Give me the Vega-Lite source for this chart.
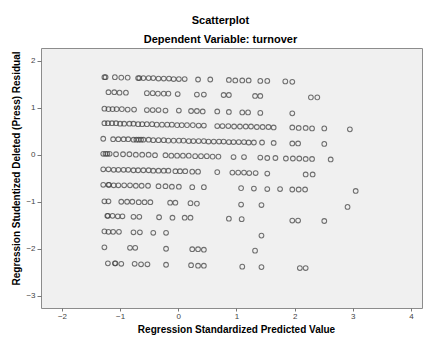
{
  "$schema": "https://vega.github.io/schema/vega-lite/v6.json",
  "width": 381,
  "height": 260,
  "autosize": {"type": "none"},
  "padding": {"left": 41, "top": 48, "right": 1, "bottom": 32},
  "background": "white",
  "title": {
    "text": "Scatterplot",
    "subtitle": "Dependent Variable: turnover",
    "anchor": "middle",
    "frame": "group",
    "dx": -11,
    "font": "Liberation Sans",
    "fontSize": 11,
    "fontWeight": "bold",
    "color": "#000",
    "subtitleFont": "Liberation Sans",
    "subtitleFontSize": 11,
    "subtitleFontWeight": "bold",
    "subtitleColor": "#000",
    "subtitlePadding": 8,
    "offset": 3
  },
  "config": {
    "view": {"fill": "#f0f0f0", "stroke": "#8c8c8c", "strokeWidth": 1},
    "axis": {
      "grid": false,
      "domain": false,
      "labelFont": "Liberation Sans",
      "labelFontSize": 8,
      "labelColor": "#444",
      "tickColor": "#777",
      "titleFont": "Liberation Sans",
      "titleFontSize": 10,
      "titleFontWeight": "bold",
      "titleColor": "#000"
    }
  },
  "data": {"values": [
    {"p":-1.27,"r":1.65},{"p":-1.25,"r":1.65},{"p":-1.09,"r":1.65},{"p":-0.98,"r":1.64},{"p":-0.87,"r":1.64},{"p":-0.69,"r":1.63},{"p":-0.67,"r":1.63},{"p":-0.60,"r":1.63},{"p":-0.51,"r":1.63},{"p":-0.43,"r":1.63},{"p":-0.34,"r":1.62},{"p":-0.25,"r":1.62},{"p":-0.16,"r":1.62},{"p":-0.08,"r":1.61},{"p":0.01,"r":1.61},{"p":0.11,"r":1.61},{"p":0.34,"r":1.60},{"p":0.55,"r":1.60},{"p":0.87,"r":1.59},{"p":0.98,"r":1.58},{"p":1.10,"r":1.58},{"p":1.21,"r":1.58},{"p":1.41,"r":1.57},{"p":1.53,"r":1.57},{"p":1.84,"r":1.56},{"p":1.96,"r":1.55},

    {"p":-1.20,"r":1.33},{"p":-1.10,"r":1.33},{"p":-1.01,"r":1.32},{"p":-0.90,"r":1.32},{"p":-0.54,"r":1.31},{"p":-0.44,"r":1.31},{"p":-0.35,"r":1.30},{"p":-0.25,"r":1.30},{"p":-0.17,"r":1.30},{"p":-0.01,"r":1.29},{"p":0.32,"r":1.28},{"p":0.44,"r":1.28},{"p":0.78,"r":1.27},{"p":0.87,"r":1.27},{"p":1.32,"r":1.25},{"p":1.41,"r":1.25},{"p":2.28,"r":1.22},{"p":2.39,"r":1.22},

    {"p":-1.27,"r":0.98},{"p":-1.20,"r":0.97},{"p":-1.13,"r":0.97},{"p":-1.06,"r":0.97},{"p":-0.97,"r":0.97},{"p":-0.87,"r":0.96},{"p":-0.76,"r":0.96},{"p":-0.54,"r":0.95},{"p":-0.44,"r":0.95},{"p":-0.34,"r":0.95},{"p":-0.22,"r":0.94},{"p":0.01,"r":0.94},{"p":0.22,"r":0.93},{"p":0.32,"r":0.93},{"p":0.42,"r":0.92},{"p":0.67,"r":0.92},{"p":0.87,"r":0.91},{"p":1.10,"r":0.90},{"p":1.20,"r":0.90},{"p":1.41,"r":0.89},{"p":1.96,"r":0.88},

    {"p":-1.27,"r":0.67},{"p":-1.21,"r":0.67},{"p":-1.14,"r":0.67},{"p":-1.07,"r":0.67},{"p":-1.00,"r":0.66},{"p":-0.93,"r":0.66},{"p":-0.84,"r":0.66},{"p":-0.77,"r":0.66},{"p":-0.69,"r":0.65},{"p":-0.62,"r":0.65},{"p":-0.54,"r":0.65},{"p":-0.45,"r":0.65},{"p":-0.37,"r":0.64},{"p":-0.28,"r":0.64},{"p":-0.19,"r":0.64},{"p":-0.11,"r":0.64},{"p":-0.02,"r":0.63},{"p":0.06,"r":0.63},{"p":0.15,"r":0.63},{"p":0.25,"r":0.63},{"p":0.35,"r":0.62},{"p":0.44,"r":0.62},
    {"p":0.67,"r":0.61},{"p":0.76,"r":0.61},{"p":0.86,"r":0.61},{"p":0.96,"r":0.60},{"p":1.06,"r":0.60},{"p":1.16,"r":0.60},{"p":1.25,"r":0.60},{"p":1.35,"r":0.59},{"p":1.45,"r":0.59},{"p":1.55,"r":0.59},{"p":1.64,"r":0.58},
    {"p":1.96,"r":0.58},{"p":2.07,"r":0.57},{"p":2.19,"r":0.57},{"p":2.30,"r":0.56},{"p":2.51,"r":0.56},{"p":2.95,"r":0.54},

    {"p":-1.29,"r":0.34},{"p":-1.12,"r":0.33},{"p":-1.03,"r":0.33},{"p":-0.94,"r":0.33},{"p":-0.86,"r":0.33},{"p":-0.77,"r":0.32},{"p":-0.72,"r":0.32},{"p":-0.68,"r":0.32},{"p":-0.64,"r":0.32},{"p":-0.60,"r":0.32},{"p":-0.51,"r":0.32},{"p":-0.43,"r":0.31},{"p":-0.34,"r":0.31},{"p":-0.25,"r":0.31},{"p":-0.17,"r":0.30},{"p":-0.08,"r":0.30},{"p":0.01,"r":0.30},{"p":0.09,"r":0.30},{"p":0.18,"r":0.29},{"p":0.26,"r":0.29},{"p":0.35,"r":0.29},{"p":0.44,"r":0.29},{"p":0.52,"r":0.28},{"p":0.61,"r":0.28},{"p":0.70,"r":0.28},{"p":0.78,"r":0.28},{"p":0.87,"r":0.27},{"p":0.95,"r":0.27},{"p":1.04,"r":0.27},{"p":1.13,"r":0.27},{"p":1.21,"r":0.26},{"p":1.30,"r":0.26},{"p":1.44,"r":0.26},{"p":1.64,"r":0.25},{"p":1.96,"r":0.24},{"p":2.06,"r":0.24},{"p":2.51,"r":0.23},

    {"p":-1.29,"r":0.02},{"p":-1.25,"r":0.02},{"p":-1.22,"r":0.02},{"p":-1.18,"r":0.02},{"p":-1.07,"r":0.01},{"p":-0.95,"r":0.01},{"p":-0.84,"r":0.01},{"p":-0.73,"r":0.00},{"p":-0.62,"r":0.00},{"p":-0.51,"r":0.00},{"p":-0.40,"r":-0.01},{"p":-0.22,"r":-0.01},{"p":-0.12,"r":-0.02},{"p":-0.02,"r":-0.02},{"p":0.08,"r":-0.02},{"p":0.18,"r":-0.02},{"p":0.29,"r":-0.03},{"p":0.39,"r":-0.03},{"p":0.49,"r":-0.03},{"p":0.59,"r":-0.04},{"p":0.69,"r":-0.04},{"p":0.95,"r":-0.05},{"p":1.13,"r":-0.05},{"p":1.41,"r":-0.06},{"p":1.53,"r":-0.07},{"p":1.67,"r":-0.07},{"p":1.85,"r":-0.08},{"p":1.97,"r":-0.08},{"p":2.08,"r":-0.08},{"p":2.19,"r":-0.09},{"p":2.30,"r":-0.09},{"p":2.62,"r":-0.10},

    {"p":-1.29,"r":-0.31},{"p":-1.20,"r":-0.31},{"p":-1.11,"r":-0.32},{"p":-1.03,"r":-0.32},{"p":-0.94,"r":-0.32},{"p":-0.86,"r":-0.32},{"p":-0.77,"r":-0.33},{"p":-0.69,"r":-0.33},{"p":-0.60,"r":-0.33},{"p":-0.51,"r":-0.33},{"p":-0.43,"r":-0.34},{"p":-0.34,"r":-0.34},{"p":-0.25,"r":-0.34},{"p":-0.17,"r":-0.34},{"p":-0.05,"r":-0.35},{"p":0.03,"r":-0.35},{"p":0.12,"r":-0.35},{"p":0.24,"r":-0.36},{"p":0.34,"r":-0.36},{"p":0.67,"r":-0.37},{"p":0.93,"r":-0.38},{"p":1.03,"r":-0.38},{"p":1.13,"r":-0.38},{"p":1.22,"r":-0.39},{"p":1.33,"r":-0.39},{"p":1.53,"r":-0.40},{"p":2.19,"r":-0.42},{"p":2.31,"r":-0.42},

    {"p":-1.29,"r":-0.64},{"p":-1.20,"r":-0.64},{"p":-1.19,"r":-0.64},{"p":-1.11,"r":-0.65},{"p":-1.03,"r":-0.65},{"p":-0.93,"r":-0.65},{"p":-0.83,"r":-0.65},{"p":-0.73,"r":-0.66},{"p":-0.63,"r":-0.66},{"p":-0.52,"r":-0.66},{"p":-0.34,"r":-0.67},{"p":-0.22,"r":-0.67},{"p":-0.11,"r":-0.68},{"p":0.01,"r":-0.68},{"p":0.24,"r":-0.69},{"p":0.44,"r":-0.69},{"p":1.08,"r":-0.71},{"p":1.30,"r":-0.72},{"p":1.53,"r":-0.73},{"p":1.75,"r":-0.73},{"p":1.96,"r":-0.74},{"p":2.07,"r":-0.74},{"p":2.18,"r":-0.74},{"p":3.05,"r":-0.77},

    {"p":-1.27,"r":-0.99},{"p":-1.20,"r":-0.99},{"p":-0.98,"r":-1.00},{"p":-0.88,"r":-1.00},{"p":-0.79,"r":-1.00},{"p":-0.68,"r":-1.01},{"p":-0.58,"r":-1.01},{"p":-0.48,"r":-1.01},{"p":-0.14,"r":-1.02},{"p":-0.05,"r":-1.02},{"p":0.21,"r":-1.03},{"p":0.32,"r":-1.04},{"p":1.08,"r":-1.06},{"p":1.43,"r":-1.07},{"p":2.91,"r":-1.11},

    {"p":-1.22,"r":-1.30},{"p":-1.21,"r":-1.30},{"p":-1.13,"r":-1.30},{"p":-1.04,"r":-1.31},{"p":-0.96,"r":-1.31},{"p":-0.77,"r":-1.32},{"p":-0.67,"r":-1.32},{"p":-0.33,"r":-1.33},{"p":-0.10,"r":-1.34},{"p":0.11,"r":-1.34},{"p":0.21,"r":-1.34},{"p":0.87,"r":-1.36},{"p":1.09,"r":-1.37},{"p":1.96,"r":-1.40},{"p":2.06,"r":-1.40},{"p":2.51,"r":-1.41},

    {"p":-1.27,"r":-1.63},{"p":-1.20,"r":-1.64},{"p":-1.12,"r":-1.64},{"p":-1.02,"r":-1.64},{"p":-0.77,"r":-1.65},{"p":-0.66,"r":-1.65},{"p":-0.43,"r":-1.66},{"p":-0.21,"r":-1.66},{"p":1.43,"r":-1.72},

    {"p":-1.27,"r":-1.97},{"p":-0.83,"r":-1.98},{"p":-0.74,"r":-1.98},{"p":-0.21,"r":-2.00},{"p":0.24,"r":-2.01},{"p":0.34,"r":-2.01},{"p":0.44,"r":-2.02},{"p":1.32,"r":-2.04},

    {"p":-1.21,"r":-2.31},{"p":-1.09,"r":-2.31},{"p":-1.08,"r":-2.31},{"p":-0.98,"r":-2.32},{"p":-0.75,"r":-2.32},{"p":-0.64,"r":-2.33},{"p":-0.53,"r":-2.33},{"p":-0.21,"r":-2.34},{"p":0.22,"r":-2.35},{"p":0.34,"r":-2.36},{"p":0.44,"r":-2.36},{"p":1.10,"r":-2.38},{"p":1.43,"r":-2.39},{"p":2.09,"r":-2.41},{"p":2.19,"r":-2.41}
  ]},
  "mark": {"type": "point", "shape": "circle", "filled": false, "size": 22, "strokeWidth": 1.1, "color": "#444444", "opacity": 0.75},
  "encoding": {
    "x": {
      "field": "p", "type": "quantitative",
      "scale": {"domain": [-2.36, 4.19], "nice": false, "zero": false},
      "axis": {"values": [-2, -1, 0, 1, 2, 3, 4], "tickSize": 3, "labelPadding": 1, "title": "Regression Standardized Predicted Value", "titlePadding": 4, "titleX": 195}
    },
    "y": {
      "field": "r", "type": "quantitative",
      "scale": {"domain": [-3.26, 2.27], "nice": false, "zero": false},
      "axis": {"values": [-3, -2, -1, 0, 1, 2], "tickSize": 4, "labelPadding": 2, "title": "Regression Studentized Deleted (Press) Residual", "titlePadding": 4, "titleY": 120}
    }
  }
}
